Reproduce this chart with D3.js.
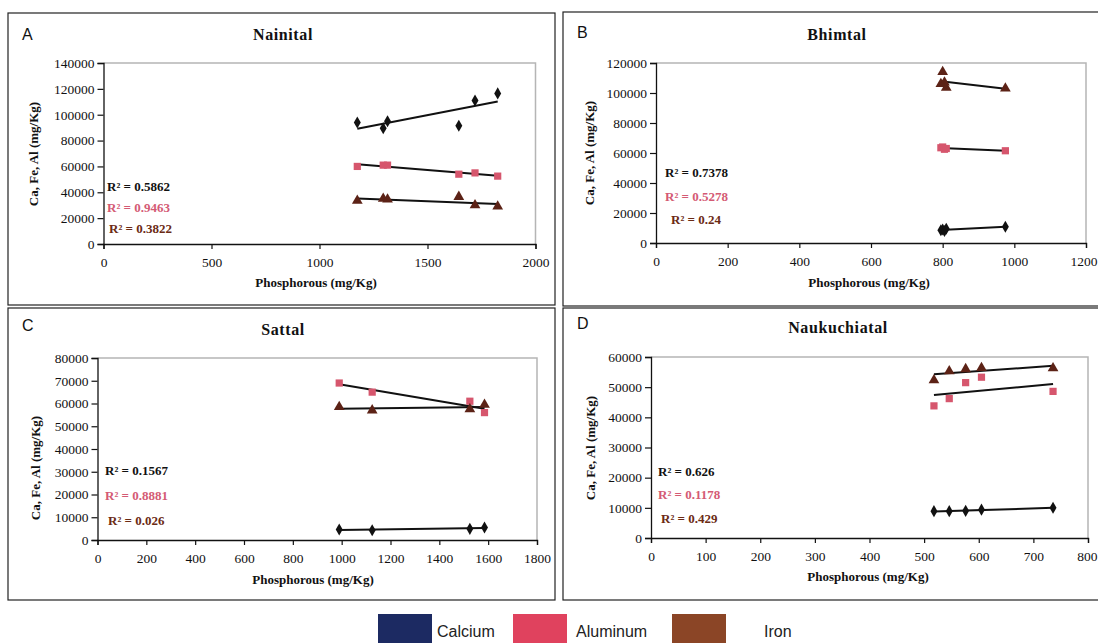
<!DOCTYPE html>
<html><head><meta charset="utf-8">
<script src="https://cdn.jsdelivr.net/npm/d3@7"></script>
<style>
html,body{margin:0;padding:0;background:#fff;overflow:hidden}
svg{display:block}
</style></head>
<body>
<svg id="chart" width="1098" height="643"></svg>
<script>
// ---- data ----
const lakes = ["Nainital", "Bhimtal", "Sattal", "Naukuchiatal"];
const letters = ["A", "B", "C", "D"];
const seriesNames = ["Calcium", "Aluminum", "Iron"];

const naP  = [1175, 1295, 1315, 1645, 1720, 1825];
const naCa = [94000, 89500, 95000, 91500, 111000, 116500];
const naAl = [60000, 61000, 61000, 54000, 55000, 52500];
const naFe = [33500, 35000, 34500, 36500, 30000, 29000];
const naR2 = ["0.5862", "0.9463", "0.3822"];

const bhP  = [795, 800, 805, 810, 975];
const bhCa = [8500, 9000, 8000, 9500, 10800];
const bhAl = [63500, 64000, 62500, 63000, 61500];
const bhFe = [106000, 114000, 107000, 103500, 103000];
const bhR2 = ["0.7378", "0.5278", "0.24"];

const saP  = [990, 1125, 1525, 1585];
const saCa = [4600, 4300, 4900, 5500];
const saAl = [69000, 65000, 61000, 56000];
const saFe = [58500, 57000, 57500, 59500];
const saR2 = ["0.1567", "0.8881", "0.026"];

const nkP  = [518, 546, 576, 605, 736];
const nkCa = [8900, 8900, 9000, 9400, 10000];
const nkAl = [43800, 46200, 51500, 53300, 48600];
const nkFe = [52300, 55300, 56000, 56400, 56300];
const nkR2 = ["0.626", "0.1178", "0.429"];

const xMaxes = [2000, 1200, 1800, 800];
const xSteps = [500, 200, 200, 100];
const yMaxes = [140000, 120000, 80000, 60000];
const ySteps = [20000, 20000, 10000, 10000];

// ---- layout / style ----
const legendColors = ["#1c2a62", "#e0425e", "#8b4526"];
const markerColors = ["#111111", "#d6566d", "#5c2216"];
const r2Colors = ["#111111", "#d45a74", "#6b2a14"];
const serif = "'Liberation Serif','Times New Roman',serif";
const sans = "'Liberation Sans',Arial,sans-serif";

const layouts = [
  {box:[8,13,555,305], plot:[103.5,535.5,63,244], letter:[22,40], title:[283,40],
   yLab:[38,154], xLab:[316,287], r2:[[107,191],[107,212],[109,233]]},
  {box:[563,12,1110,306], plot:[656,1086,63,243], letter:[577,38], title:[837,40],
   yLab:[594,153], xLab:[869,287], r2:[[665,177],[665,201],[671,224]]},
  {box:[8,308,555,600], plot:[97.5,537,358,540], letter:[22,331], title:[283,335],
   yLab:[40,468], xLab:[313,584], r2:[[105,475],[105,500],[108,525]]},
  {box:[563,308,1110,600], plot:[651,1088,357,538], letter:[577,329], title:[838,333],
   yLab:[595,448], xLab:[868,581], r2:[[658,476],[658,499],[661,523]]}
];

const dataSets = [
  [naP, naCa, naAl, naFe, naR2],
  [bhP, bhCa, bhAl, bhFe, bhR2],
  [saP, saCa, saAl, saFe, saR2],
  [nkP, nkCa, nkAl, nkFe, nkR2]
];

const svg = d3.select("#chart");
svg.append("rect").attr("width",1098).attr("height",643).attr("fill","#fff");

const symbols = [d3.symbolDiamond, d3.symbolSquare, d3.symbolTriangle];
const symSizes = [42, 52, 50];

function fit(xs, ys){
  const mx = d3.mean(xs), my = d3.mean(ys);
  let sxy = 0, sxx = 0;
  xs.forEach((x,i)=>{ sxy += (x-mx)*(ys[i]-my); sxx += (x-mx)*(x-mx); });
  const b = sxy/sxx, a = my - b*mx;
  return x => a + b*x;
}

layouts.forEach((L, k) => {
  const [P, Ca, Al, Fe, R2] = dataSets[k];
  const g = svg.append("g");
  // panel frame
  g.append("rect").attr("x",L.box[0]).attr("y",L.box[1])
    .attr("width",L.box[2]-L.box[0]).attr("height",L.box[3]-L.box[1])
    .attr("fill","none").attr("stroke","#222").attr("stroke-width",1.2);

  const x = d3.scaleLinear().domain([0, xMaxes[k]]).range([L.plot[0], L.plot[1]]);
  const y = d3.scaleLinear().domain([0, yMaxes[k]]).range([L.plot[3], L.plot[2]]);

  // plot area border (top/right light grey)
  g.append("path").attr("d",`M${L.plot[0]},${L.plot[2]}H${L.plot[1]}V${L.plot[3]}`)
    .attr("fill","none").attr("stroke","#b5b5b5").attr("stroke-width",1.5);

  const xTicks = d3.range(0, xMaxes[k] + 1, xSteps[k]);
  const yTicks = d3.range(0, yMaxes[k] + 1, ySteps[k]);

  const xa = g.append("g").attr("transform",`translate(0,${L.plot[3]})`)
    .call(d3.axisBottom(x).tickValues(xTicks).tickSize(5).tickPadding(8).tickFormat(d3.format("d")));
  const ya = g.append("g").attr("transform",`translate(${L.plot[0]},0)`)
    .call(d3.axisLeft(y).tickValues(yTicks).tickSize(6).tickPadding(3).tickFormat(d3.format("d")));
  [xa, ya].forEach(a => {
    a.select(".domain").attr("stroke","#111").attr("stroke-width",1.3);
    a.selectAll(".tick line").attr("stroke","#111").attr("stroke-width",1.2);
    a.selectAll(".tick text").attr("font-family",serif).attr("font-size",13.5).attr("fill","#111");
  });
  // keep the last x tick label inside the page edge
  xa.selectAll(".tick text").filter(d => x(d) + 14 > 1098).attr("text-anchor","end").attr("x", d => 1097 - x(d));

  // titles
  g.append("text").attr("x",L.letter[0]).attr("y",L.letter[1])
    .attr("font-family",sans).attr("font-size",16).attr("fill","#111").text(letters[k]);
  g.append("text").attr("x",L.title[0]).attr("y",L.title[1]).attr("text-anchor","middle")
    .attr("font-family",serif).attr("font-weight","bold").attr("font-size",16)
    .attr("letter-spacing",0.6).attr("fill","#111").text(lakes[k]);
  g.append("text").attr("transform",`translate(${L.yLab[0]},${L.yLab[1]}) rotate(-90)`)
    .attr("text-anchor","middle").attr("font-family",serif).attr("font-weight","bold")
    .attr("font-size",13).attr("fill","#111").text("Ca, Fe, Al (mg/Kg)");
  g.append("text").attr("x",L.xLab[0]).attr("y",L.xLab[1]).attr("text-anchor","middle")
    .attr("font-family",serif).attr("font-weight","bold").attr("font-size",13)
    .attr("fill","#111").text("Phosphorous (mg/Kg)");

  // series
  [Ca, Al, Fe].forEach((vals, s) => {
    const f = fit(P, vals);
    const [x0, x1] = d3.extent(P);
    g.append("line").attr("x1",x(x0)).attr("y1",y(f(x0))).attr("x2",x(x1)).attr("y2",y(f(x1)))
      .attr("stroke","#111").attr("stroke-width",2);
    g.selectAll(null).data(P).enter().append("path")
      .attr("transform",(d,i)=>`translate(${x(d)},${y(vals[i])})`)
      .attr("d", d3.symbol().type(symbols[s]).size(symSizes[s]))
      .attr("fill", markerColors[s]);
  });

  // R² labels
  R2.forEach((r, s) => {
    g.append("text").attr("x",L.r2[s][0]).attr("y",L.r2[s][1])
      .attr("font-family",serif).attr("font-weight","bold").attr("font-size",13)
      .attr("fill",r2Colors[s]).text("R² = " + r);
  });
});

// legend
const legX = [378, 513, 672];
const legTextX = [437, 576, 764];
seriesNames.forEach((n, i) => {
  svg.append("rect").attr("x",legX[i]).attr("y",614).attr("width",54).attr("height",32)
    .attr("fill",legendColors[i]);
  svg.append("text").attr("x",legTextX[i]).attr("y",637).attr("font-family",sans)
    .attr("font-size",16).attr("fill","#222").text(n);
});
</script>
</body></html>
